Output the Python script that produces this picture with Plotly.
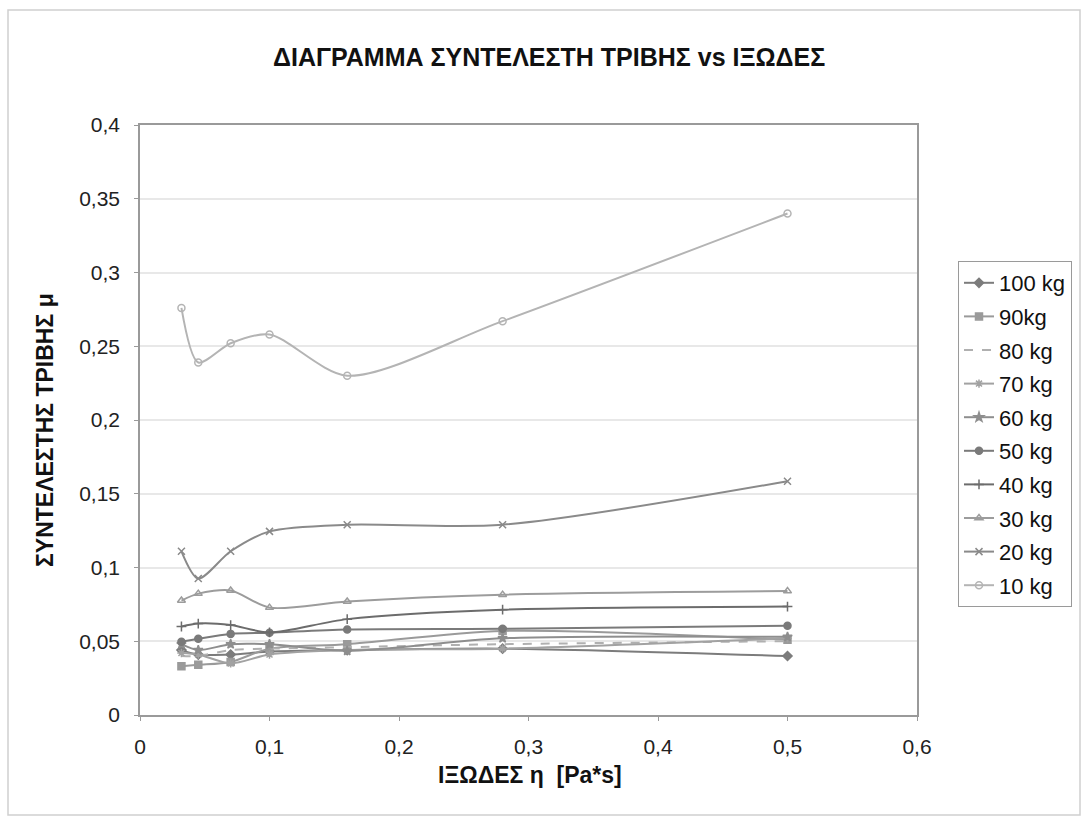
import plotly.graph_objects as go

# Viscosity values (x) shared by all series
viscosity = [0.032, 0.045, 0.07, 0.1, 0.16, 0.28, 0.5]

series_names = ["100 kg", "90kg", "80 kg", "70 kg", "60 kg", "50 kg", "40 kg", "30 kg", "20 kg", "10 kg"]

mu_100 = [0.044, 0.041, 0.041, 0.043, 0.044, 0.045, 0.040]
mu_90 = [0.033, 0.034, 0.036, 0.045, 0.048, 0.057, 0.051]
mu_80 = [0.040, 0.040, 0.044, 0.045, 0.046, 0.048, 0.050]
mu_70 = [0.042, 0.041, 0.035, 0.041, 0.044, 0.045, 0.052]
mu_60 = [0.048, 0.044, 0.048, 0.048, 0.0435, 0.052, 0.053]
mu_50 = [0.0497, 0.0517, 0.055, 0.0558, 0.058, 0.0585, 0.0605]
mu_40 = [0.060, 0.062, 0.061, 0.056, 0.065, 0.0714, 0.0735]
mu_30 = [0.0776, 0.0823, 0.0844, 0.0728, 0.077, 0.0816, 0.084]
mu_20 = [0.111, 0.0925, 0.111, 0.1245, 0.129, 0.129, 0.1585]
mu_10 = [0.276, 0.239, 0.252, 0.258, 0.230, 0.267, 0.340]

all_series = [mu_100, mu_90, mu_80, mu_70, mu_60, mu_50, mu_40, mu_30, mu_20, mu_10]

x_ticks = [0, 0.1, 0.2, 0.3, 0.4, 0.5, 0.6]
x_tick_labels = ["0", "0,1", "0,2", "0,3", "0,4", "0,5", "0,6"]
y_ticks = [0, 0.05, 0.1, 0.15, 0.2, 0.25, 0.3, 0.35, 0.4]
y_tick_labels = ["0", "0,05", "0,1", "0,15", "0,2", "0,25", "0,3", "0,35", "0,4"]

title_text = "ΔΙΑΓΡΑΜΜΑ ΣΥΝΤΕΛΕΣΤΗ ΤΡΙΒΗΣ vs ΙΞΩΔΕΣ"
x_title = "ΙΞΩΔΕΣ η  [Pa*s]"
y_title = "ΣΥΝΤΕΛΕΣΤΗΣ ΤΡΙΒΗΣ μ"

# styles
colors = ["#7c7c7c", "#9a9a9a", "#b0b0b0", "#a2a2a2", "#8e8e8e",
          "#7a7a7a", "#6c6c6c", "#9c9c9c", "#8a8a8a", "#b4b4b4"]
symbols = ["diamond", "square", None, "asterisk-open", "star",
           "circle", "cross-thin-open", "triangle-up-open", "x-thin-open", "circle-open"]
dashes = ["solid", "solid", "dash", "solid", "solid", "solid", "solid", "solid", "solid", "solid"]

FONT = "Liberation Sans, Arial, sans-serif"
W, H = 1088, 823
L, R, T, B = 140, 171, 125, 108
PW, PH = W - L - R, H - T - B

fig = go.Figure()
for i, (name, ys) in enumerate(zip(series_names, all_series)):
    sym = symbols[i]
    fig.add_trace(go.Scatter(
        x=viscosity, y=ys, name=name,
        mode="lines" if sym is None else "lines+markers",
        line=dict(color=colors[i], width=2, dash=dashes[i], shape="spline", smoothing=0.8),
        marker=dict(symbol=sym if sym else "circle", size=7, color=colors[i],
                    line=dict(color=colors[i], width=1.5)),
        legendgroup="g%d" % i,
    ))

fig.update_layout(
    width=W, height=H,
    margin=dict(l=L, r=R, t=T, b=B),
    paper_bgcolor="white", plot_bgcolor="white",
    font=dict(family=FONT, size=21, color="#222"),
    showlegend=True,
    legend=dict(x=(958 - L) / PW, y=(H - B - 261) / PH, xanchor="left", yanchor="top",
                bordercolor="#9a9a9a", borderwidth=1, bgcolor="white",
                font=dict(size=22, family=FONT, color="#111"),
                traceorder="grouped", tracegroupgap=2, itemwidth=30),
    xaxis=dict(range=[0, 0.6], tickvals=x_ticks, ticktext=x_tick_labels,
               showgrid=False, zeroline=False, showline=True, linecolor="#9a9a9a", linewidth=1.5,
               mirror=True, ticks="outside", ticklen=4, tickcolor="#9a9a9a",
               ticklabelstandoff=8,
               tickfont=dict(size=21, color="#222")),
    yaxis=dict(range=[0, 0.4], tickvals=y_ticks, ticktext=y_tick_labels,
               showgrid=True, gridcolor="#e8e8e8", gridwidth=1.5, zeroline=False,
               showline=True, linecolor="#9a9a9a", linewidth=1.5, mirror=True,
               ticks="outside", ticklen=4, tickcolor="#9a9a9a",
               ticklabelstandoff=10,
               tickfont=dict(size=21, color="#222")),
)

# titles as annotations for exact placement
fig.add_annotation(text="<b>" + title_text + "</b>", xref="paper", yref="paper",
                   x=(549 - L) / PW, y=(H - B - 57) / PH, xanchor="center", yanchor="middle",
                   showarrow=False, font=dict(size=25, family=FONT, color="#111"))
fig.add_annotation(text="<b>" + x_title + "</b>", xref="paper", yref="paper",
                   x=(530 - L) / PW, y=(H - B - 775) / PH, xanchor="center", yanchor="middle",
                   showarrow=False, font=dict(size=23, family=FONT, color="#111"))
fig.add_annotation(text="<b>" + y_title + "</b>", xref="paper", yref="paper",
                   x=(45 - L) / PW, y=(H - B - 430) / PH, xanchor="center", yanchor="middle",
                   textangle=-90, showarrow=False, font=dict(size=23, family=FONT, color="#111"))

# outer chart-area border
fig.add_shape(type="rect", xref="paper", yref="paper",
              x0=(8 - L) / PW, x1=(1080 - L) / PW,
              y0=(H - B - 815) / PH, y1=(H - B - 10) / PH,
              line=dict(color="#d0d0d0", width=1.5), layer="below")

fig.write_html("out.html")
